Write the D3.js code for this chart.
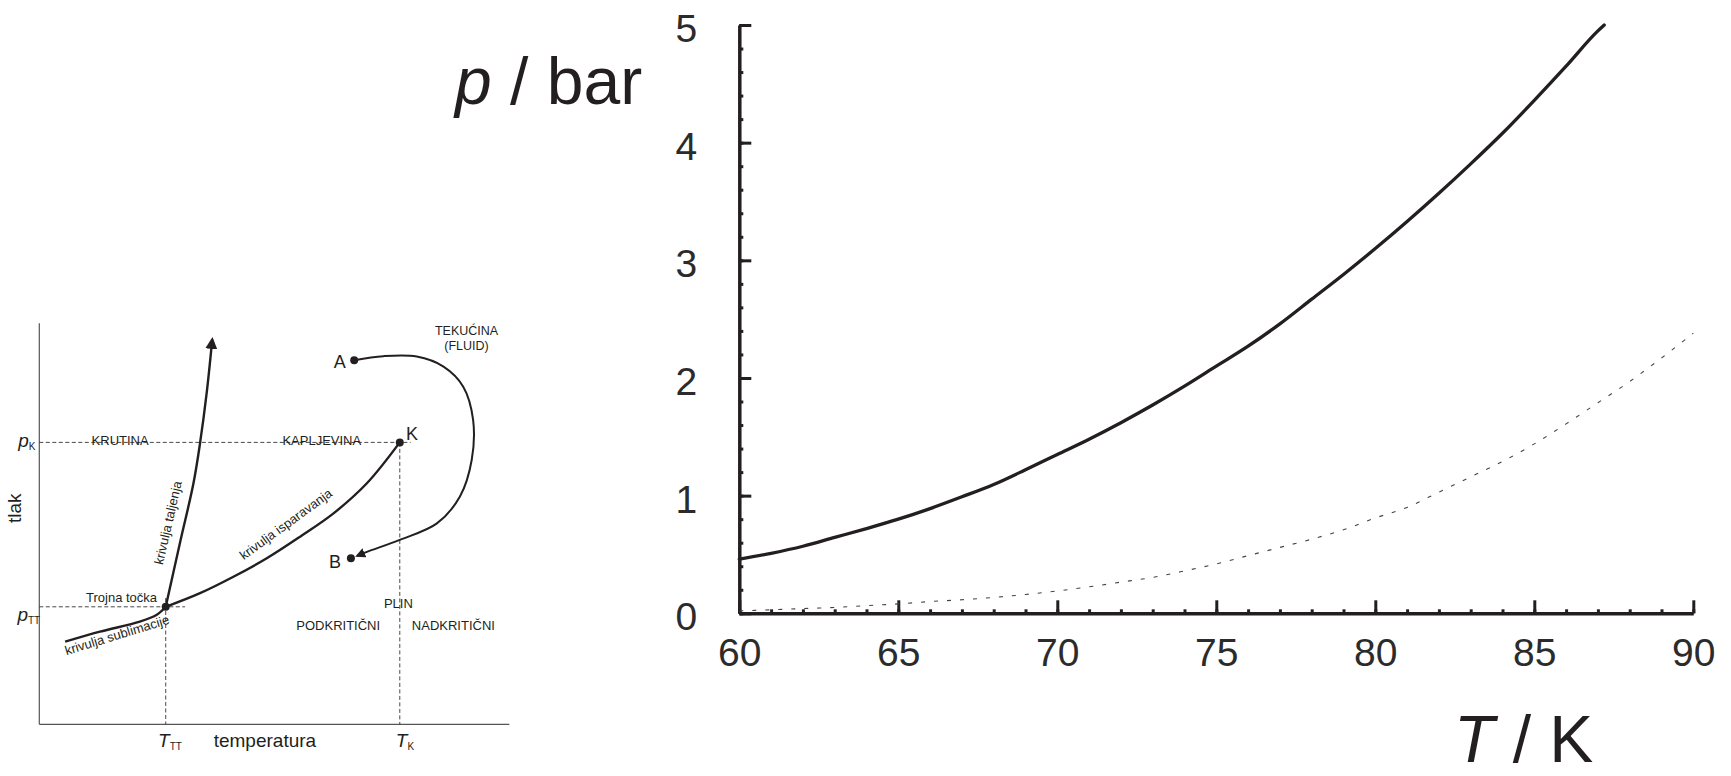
<!DOCTYPE html>
<html>
<head>
<meta charset="utf-8">
<script src="https://cdn.jsdelivr.net/npm/d3@7"></script>
<style>
  html, body { margin: 0; padding: 0; background: #ffffff; }
  svg { display: block; font-family: "Liberation Sans", Arial, Helvetica, sans-serif; }
</style>
</head>
<body>
<svg id="chart" width="1731" height="776"></svg>
<script>
// ---------------- DATA: main chart ----------------
const temperatures = [60, 61, 62, 63, 64, 65, 66, 67, 68, 69, 70, 71, 72, 73, 74, 75,
  76, 77, 78, 79, 80, 81, 82, 83, 84, 85, 86, 87, 87.2];
const pressureUpper = [0.46, 0.51, 0.57, 0.645, 0.72, 0.80, 0.89, 0.99, 1.095, 1.22, 1.35, 1.48,
  1.62, 1.77, 1.93, 2.10, 2.27, 2.46, 2.67, 2.88, 3.10, 3.33, 3.57, 3.82, 4.08, 4.36, 4.65, 4.95, 5.0];

const temperaturesLower = [60, 61, 62, 63, 64, 65, 66, 67, 68, 69, 70, 71, 72, 73, 74, 75,
  76, 77, 78, 79, 80, 81, 82, 83, 84, 85, 86, 87, 88, 89, 90];
const pressureLower = [0.02, 0.03, 0.04, 0.05, 0.065, 0.08, 0.10, 0.115, 0.135, 0.16, 0.19, 0.225,
  0.265, 0.305, 0.36, 0.42, 0.49, 0.56, 0.63, 0.71, 0.81, 0.90, 1.03, 1.16, 1.29, 1.44, 1.61, 1.79,
  1.97, 2.17, 2.38];

const xTickLabels = [60, 65, 70, 75, 80, 85, 90];
const yTickLabels = [0, 1, 2, 3, 4, 5];

// ---------------- DATA: schematic phase diagram (abstract 0-100 units) ----------------
const triplePoint = [26.9, 29.3];
const criticalPoint = [76.7, 70.3];
const pointA = [67.0, 90.8];
const pointB = [66.3, 41.4];
const meltingCurve = [[26.9, 29.3], [29.9, 45.1], [32.8, 60.1], [34.2, 70.1], [35.6, 82.5], [36.8, 96.0]];
const vaporCurve = [[26.9, 29.3], [34.2, 32.7], [41.3, 36.8], [48.4, 41.4], [55.5, 46.8], [62.6, 52.6], [69.7, 60.1], [76.7, 70.3]];
const sublimationCurve = [[5.5, 20.6], [12.9, 23.1], [21.4, 25.6], [25.0, 27.3], [26.9, 29.3]];
const pathAB = [[67.0, 90.8], [73.2, 91.8], [80.3, 91.7], [86.0, 89.2], [90.2, 84.2], [92.3, 75.9],
  [92.0, 65.9], [89.5, 56.8], [84.6, 50.1], [76.7, 46.0], [69.7, 43.0], [67.6, 42.0]];

// ---------------- DRAW ----------------
const svg = d3.select("#chart");
const ink = "#231f20";

// ===== Main chart =====
const x = d3.scaleLinear().domain([60, 90]).range([739.3, 1693.3]);
const y = d3.scaleLinear().domain([0, 5]).range([613.3, 25]);

const main = svg.append("g");

// minor ticks
main.append("g")
  .attr("transform", `translate(0,${y(0)})`)
  .call(d3.axisBottom(x).tickValues(d3.range(60, 91, 1)).tickSize(-4).tickFormat(""))
  .call(g => g.select(".domain").remove())
  .call(g => g.selectAll("line").attr("stroke", ink).attr("stroke-width", 3));
main.append("g")
  .attr("transform", `translate(${x(60)},0)`)
  .call(d3.axisLeft(y).tickValues(d3.range(0, 5.01, 0.2)).tickSize(-4).tickFormat(""))
  .call(g => g.select(".domain").remove())
  .call(g => g.selectAll("line").attr("stroke", ink).attr("stroke-width", 3));

// major axes
const xAxis = main.append("g")
  .attr("transform", `translate(0,${y(0)})`)
  .call(d3.axisBottom(x).tickValues(xTickLabels).tickSize(-13).tickSizeOuter(0).tickPadding(25).tickFormat(d3.format("d")));
const yAxis = main.append("g")
  .attr("transform", `translate(${x(60)},0)`)
  .call(d3.axisLeft(y).tickValues(yTickLabels).tickSize(-12).tickSizeOuter(0).tickPadding(42).tickFormat(d3.format("d")));

[xAxis, yAxis].forEach(a => {
  a.select(".domain").attr("stroke", ink).attr("stroke-width", 3.5);
  a.selectAll(".tick line").attr("stroke", ink).attr("stroke-width", 3);
  a.selectAll(".tick text").attr("fill", "#2b2b2b").style("font-size", "39px")
   .style("font-family", "'Liberation Sans', Arial, sans-serif");
});
yAxis.selectAll(".tick text").attr("dy", "0.42em");

// curves
const upperData = temperatures.map((t, i) => [t, pressureUpper[i]]);
const lowerData = temperaturesLower.map((t, i) => [t, pressureLower[i]]);
const lineMain = d3.line().x(d => x(d[0])).y(d => y(d[1])).curve(d3.curveMonotoneX);

main.append("path").datum(lowerData)
  .attr("d", lineMain).attr("fill", "none")
  .attr("stroke", "#444").attr("stroke-width", 1.1).attr("stroke-dasharray", "4,9");
main.append("path").datum(upperData)
  .attr("d", lineMain).attr("fill", "none")
  .attr("stroke", ink).attr("stroke-width", 3.3).attr("stroke-linejoin", "round").attr("stroke-linecap", "round");

// axis titles
const pTitle = main.append("text").attr("x", 455).attr("y", 104)
  .style("font-size", "66px").attr("fill", ink);
pTitle.append("tspan").style("font-style", "italic").text("p");
pTitle.append("tspan").text(" / bar");

const tTitle = main.append("text").attr("x", 1454).attr("y", 762)
  .style("font-size", "66px").attr("fill", ink);
tTitle.append("tspan").style("font-style", "italic").text("T");
tTitle.append("tspan").text(" / K");

// ===== Schematic =====
const sx = d3.scaleLinear().domain([0, 100]).range([39.3, 509.3]);
const sy = d3.scaleLinear().domain([0, 100]).range([724.3, 323.3]);
const sch = svg.append("g");

const defs = svg.append("defs");
defs.append("marker").attr("id", "arrow")
  .attr("viewBox", "0 0 10 10").attr("refX", 8).attr("refY", 5)
  .attr("markerWidth", 5).attr("markerHeight", 5).attr("orient", "auto")
  .attr("markerUnits", "strokeWidth")
  .append("path").attr("d", "M0,0 L10,5 L0,10 z").attr("fill", ink);

// axes
sch.append("line").attr("x1", sx(0)).attr("x2", sx(0)).attr("y1", sy(0)).attr("y2", sy(100))
  .attr("stroke", "#555").attr("stroke-width", 1.2);
sch.append("line").attr("x1", sx(0)).attr("x2", sx(100)).attr("y1", sy(0)).attr("y2", sy(0))
  .attr("stroke", "#555").attr("stroke-width", 1.2);

// dashed guides
const dash = (x1, y1, x2, y2) => sch.append("line")
  .attr("x1", sx(x1)).attr("y1", sy(y1)).attr("x2", sx(x2)).attr("y2", sy(y2))
  .attr("stroke", "#333").attr("stroke-width", 0.9).attr("stroke-dasharray", "4,2.5");
dash(0, criticalPoint[1], 79, criticalPoint[1]);
dash(criticalPoint[0], criticalPoint[1], criticalPoint[0], 0);
dash(0, triplePoint[1], 31, triplePoint[1]);
dash(triplePoint[0], 31.5, triplePoint[0], 0);

// curves
const sLine = d3.line().x(d => sx(d[0])).y(d => sy(d[1])).curve(d3.curveCatmullRom);
[sublimationCurve, vaporCurve].forEach(c => sch.append("path").datum(c).attr("d", sLine)
  .attr("fill", "none").attr("stroke", ink).attr("stroke-width", 2.4));
sch.append("path").datum(meltingCurve).attr("d", sLine)
  .attr("fill", "none").attr("stroke", ink).attr("stroke-width", 2.4).attr("marker-end", "url(#arrow)");
sch.append("path").datum(pathAB).attr("d", sLine)
  .attr("fill", "none").attr("stroke", ink).attr("stroke-width", 2).attr("marker-end", "url(#arrow)");

// points
[triplePoint, criticalPoint, pointA, pointB].forEach(p => sch.append("circle")
  .attr("cx", sx(p[0])).attr("cy", sy(p[1])).attr("r", 4).attr("fill", ink));

// labels
const lbl = (t, ux, uy, size, anchor = "middle", rot = 0) => sch.append("text")
  .attr("transform", `translate(${sx(ux)},${sy(uy)}) rotate(${rot})`)
  .attr("text-anchor", anchor).style("font-size", size + "px").attr("fill", ink).text(t);

lbl("TEKUĆINA", 90.9, 97.1, 12.5);
lbl("(FLUID)", 90.9, 93.4, 12.5);
lbl("KRUTINA", 17.2, 69.7, 13);
lbl("KAPLJEVINA", 60.1, 69.7, 13);
lbl("Trojna točka", 17.5, 30.6, 13);
lbl("PLIN", 76.4, 28.9, 13);
lbl("PODKRITIČNI", 63.6, 23.5, 13);
lbl("NADKRITIČNI", 88.1, 23.5, 13);
lbl("A", 63.9, 88.8, 18);
lbl("B", 62.9, 39.0, 18);
lbl("K", 79.3, 71.0, 18);
lbl("krivulja taljenja", 28.3, 50.0, 13, "middle", -77);
lbl("krivulja isparavanja", 53.0, 49.0, 13, "middle", -36);
lbl("krivulja sublimacije", 16.8, 21.2, 13, "middle", -17);
lbl("temperatura", 48.0, -5.6, 19);
lbl("tlak", -3.9, 53.9, 19, "middle", -90);

// subscripted symbols
const sub = (main_, subText, ux, uy, anchor) => {
  const t = sch.append("text").attr("x", sx(ux)).attr("y", sy(uy))
    .attr("text-anchor", anchor).attr("fill", ink).style("font-size", "19px");
  t.append("tspan").style("font-style", "italic").text(main_);
  t.append("tspan").style("font-size", "10px").attr("dy", "3").text(subText);
};
sub("p", "K", -0.8, 69.1, "end");
sub("p", "TT", 0.2, 25.8, "end");
sub("T", "TT", 27.8, -5.6, "middle");
sub("T", "K", 77.8, -5.6, "middle");
</script>
</body>
</html>
